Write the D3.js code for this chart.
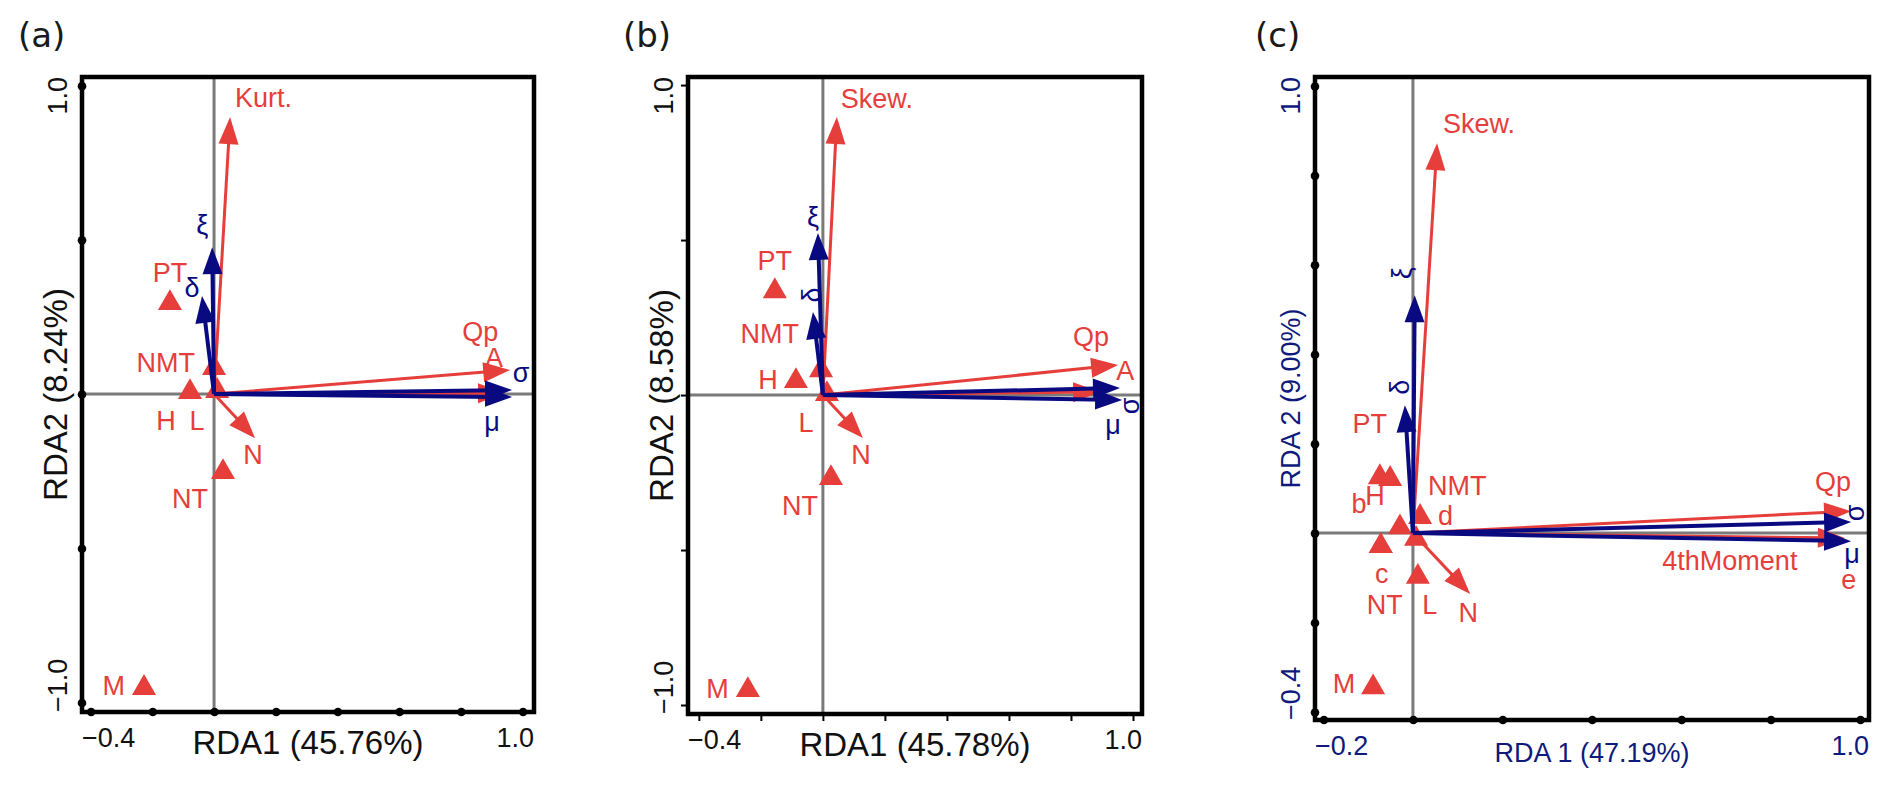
<!DOCTYPE html>
<html>
<head>
<meta charset="utf-8">
<script src="https://cdn.jsdelivr.net/npm/d3@7"></script>
<style>
  body { margin: 0; background: #fff; }
  text { font-family: "Liberation Sans", Arial, sans-serif; }
</style>
</head>
<body>
<svg id="fig" width="1892" height="787"></svg>
<script>
// ---- data (RDA scores) ----
// panel (a)
const aXLim = [-0.428, 1.037]
const aYLim = [-1.031, 1.028]
const aXTicks = [-0.4, -0.2, 0, 0.2, 0.4, 0.6, 0.8, 1.0]
const aYTicks = [-1.0, -0.5, 0, 0.5, 1.0]
const aEnv = [['Kurt.', 0.052, 0.898], ['Qp', 0.96, 0.078], ['A', 0.943, 0.003], ['N', 0.133, -0.143]]
const aResp = [['ξ', -0.006, 0.476], ['δ', -0.039, 0.318], ['σ', 0.966, 0.013], ['μ', 0.966, -0.01]]
const aSites = [['PT', -0.143, 0.295], ['NMT', 0.0, 0.084], ['H', -0.078, 0.006], ['L', 0.01, 0.01], ['NT', 0.029, -0.253], ['M', -0.227, -0.953]]

// panel (b)
const bXLim = [-0.435, 1.029]
const bYLim = [-1.029, 1.026]
const bXTicks = [-0.4, -0.2, 0, 0.2, 0.4, 0.6, 0.8, 1.0]
const bYTicks = [-1.0, -0.5, 0, 0.5, 1.0]
const bEnv = [['Skew.', 0.045, 0.897], ['Qp', 0.952, 0.097], ['A', 0.894, 0.01], ['N', 0.129, -0.139]]
const bResp = [['ξ', -0.016, 0.523], ['δ', -0.032, 0.268], ['σ', 0.958, 0.023], ['μ', 0.965, -0.016]]
const bSites = [['PT', -0.155, 0.335], ['NMT', -0.006, 0.08], ['H', -0.087, 0.045], ['L', 0.013, 0.003], ['NT', 0.026, -0.268], ['M', -0.242, -0.952]]

// panel (c)
const cXLim = [-0.219, 1.02]
const cYLim = [-0.418, 1.02]
const cXTicks = [-0.2, 0, 0.2, 0.4, 0.6, 0.8, 1.0]
const cYTicks = [-0.4, -0.2, 0, 0.2, 0.4, 0.6, 0.8, 1.0]
const cEnv = [['Skew.', 0.054, 0.872], ['Qp', 0.98, 0.049], ['4thMoment', 0.966, -0.011], ['N', 0.128, -0.136]]
const cResp = [['ξ', 0.004, 0.532], ['δ', -0.018, 0.286], ['σ', 0.98, 0.025], ['μ', 0.98, -0.018]]
const cSites = [['PT', -0.074, 0.125], ['H', -0.051, 0.121], ['b', -0.029, 0.013], ['NMT', 0.016, 0.036],
  ['d', 0.007, -0.013], ['c', -0.072, -0.029], ['NT', -0.072, -0.029], ['L', 0.011, -0.098], ['M', -0.089, -0.345]]

// ---- label placement (pixel offsets from the arrow tip / site) ----
const aLabels = {
  'Kurt.': [5, -10, 'start'], 'Qp': [-30, -29], 'A': [-11, -26], 'N': [-2, 26],
  'ξ': [-10, -13], 'δ': [-10, 1], 'σ': [9, -8], 'μ': [-20, 34],
  'PT': [0, -21], 'NMT': [-19, 4, 'end'], 'H': [-24, 38], 'L': [-20, 39], 'NT': [-33, 36], 'M': [-19, 7, 'end']
}
const bLabels = {
  'Skew.': [4, -9, 'start'], 'Qp': [-27, -19], 'A': [25, -12], 'N': [-2, 26],
  'ξ': [-5, -7], 'δ': [-1, -17, 'middle', true], 'σ': [10, 18, 'middle', true], 'μ': [-9, 34],
  'PT': [0, -21], 'NMT': [-22, -27, 'end'], 'H': [-28, 8], 'L': [-21, 38], 'NT': [-31, 37], 'M': [-19, 8, 'end']
}
const cLabels = {
  'Skew.': [6, -10, 'start'], 'Qp': [-18, -20], '4thMoment': [-115, 32], 'N': [-2, 28],
  'ξ': [-13, -22, 'middle', true], 'δ': [-5, -18, 'middle', true], 'σ': [4, -9, 'middle', true], 'μ': [1, 22],
  'PT': [-10, -44], 'H': [-15, 26], 'b': [-41, -14], 'NMT': [8, -22, 'start'], 'd': [22, -14, 'start'],
  'c': [1, 37], 'NT': [4, 68], 'L': [12, 37], 'M': [-18, 6, 'end']
}

const RED = '#e63e3b'
const NAVY = '#0a0a80'
const GREY = '#7a7a7a'

const panels = [
  { tag: '(a)', tagX: 18, left: 82, right: 534, top: 77, bottom: 712,
    xLim: aXLim, yLim: aYLim, xTicks: aXTicks, yTicks: aYTicks, xShown: [-0.4, 1.0], yShown: [-1.0, 1.0],
    env: aEnv, resp: aResp, sites: aSites, labels: aLabels, extra: [],
    xTitle: 'RDA1 (45.76%)', yTitle: 'RDA2 (8.24%)', dots: true, axisInk: '#111', titleSize: 33, tickSize: 27 },
  { tag: '(b)', tagX: 623, left: 688, right: 1142, top: 77, bottom: 714,
    xLim: bXLim, yLim: bYLim, xTicks: bXTicks, yTicks: bYTicks, xShown: [-0.4, 1.0], yShown: [-1.0, 1.0],
    env: bEnv, resp: bResp, sites: bSites, labels: bLabels, extra: [],
    xTitle: 'RDA1 (45.78%)', yTitle: 'RDA2 (8.58%)', dots: false, axisInk: '#111', titleSize: 33, tickSize: 27 },
  { tag: '(c)', tagX: 1255, left: 1315, right: 1869, top: 77, bottom: 720,
    xLim: cXLim, yLim: cYLim, xTicks: cXTicks, yTicks: cYTicks, xShown: [-0.2, 1.0], yShown: [-0.4, 1.0],
    env: cEnv, resp: cResp, sites: cSites, labels: cLabels, extra: [['e', '4thMoment', 4, 51]],
    xTitle: 'RDA 1 (47.19%)', yTitle: 'RDA 2 (9.00%)', dots: true, axisInk: '#0e1a7c', titleSize: 27, tickSize: 27 }
]

const svg = d3.select('#fig')
const fmt = d3.format('.1f')

function drawArrow(g, x0, y0, x1, y1, color, width) {
  const len = Math.hypot(x1 - x0, y1 - y0)
  const ux = (x1 - x0) / len, uy = (y1 - y0) / len
  const hl = 27, hw = 10
  const bx = x1 - ux * hl, by = y1 - uy * hl
  g.append('line')
    .attr('x1', x0).attr('y1', y0)
    .attr('x2', x1 - ux * hl * 0.6).attr('y2', y1 - uy * hl * 0.6)
    .attr('stroke', color).attr('stroke-width', width)
  g.append('path')
    .attr('d', `M${x1},${y1}L${bx - uy * hw},${by + ux * hw}L${bx + uy * hw},${by - ux * hw}Z`)
    .attr('fill', color)
}

panels.forEach(p => {
  const x = d3.scaleLinear().domain(p.xLim).range([p.left, p.right])
  const y = d3.scaleLinear().domain(p.yLim).range([p.bottom, p.top])
  const g = svg.append('g')

  // panel tag
  svg.append('text')
    .attr('x', p.tagX).attr('y', 47)
    .style('font-family', '"DejaVu Sans", Verdana, sans-serif')
    .style('font-size', '34px').attr('fill', '#1a1a1a')
    .text(p.tag)

  // zero lines
  g.append('line')
    .attr('x1', p.left).attr('x2', p.right).attr('y1', y(0)).attr('y2', y(0))
    .attr('stroke', GREY).attr('stroke-width', 3)
  g.append('line')
    .attr('x1', x(0)).attr('x2', x(0)).attr('y1', p.top).attr('y2', p.bottom)
    .attr('stroke', GREY).attr('stroke-width', 3)

  // sites
  g.selectAll('path.site').data(p.sites)
    .enter().append('path')
      .classed('site', true)
      .attr('d', d3.symbol(d3.symbolTriangle, 250))
      .attr('transform', d => `translate(${x(d[1])},${y(d[2])})`)
      .attr('fill', RED)

  // biplot arrows: explanatory (red) under response (navy)
  p.env.forEach(d => drawArrow(g, x(0), y(0), x(d[1]), y(d[2]), RED, 3))
  p.resp.forEach(d => drawArrow(g, x(0), y(0), x(d[1]), y(d[2]), NAVY, 4))

  // frame
  g.append('rect')
    .attr('x', p.left).attr('y', p.top)
    .attr('width', p.right - p.left).attr('height', p.bottom - p.top)
    .attr('fill', 'none').attr('stroke', '#000').attr('stroke-width', 4.5)

  // ticks
  const xAxis = g.append('g')
    .attr('transform', `translate(0,${p.bottom})`)
    .call(d3.axisBottom(x).tickValues(p.xTicks).tickSize(p.dots ? 0 : 7).tickFormat(''))
  const yAxis = g.append('g')
    .attr('transform', `translate(${p.left},0)`)
    .call(d3.axisLeft(y).tickValues(p.yTicks).tickSize(p.dots ? 0 : 7).tickFormat(''))
  ;[xAxis, yAxis].forEach(a => {
    a.select('.domain').remove()
    a.selectAll('.tick line').attr('stroke', '#000').attr('stroke-width', 2)
    if (p.dots) a.selectAll('.tick').append('circle').attr('r', 4.3).attr('fill', '#000')
  })

  // tick labels, kept inside the frame extent
  p.xShown.forEach(v => {
    const t = g.append('text')
      .attr('y', p.bottom + 35).attr('text-anchor', 'middle')
      .style('font-size', p.tickSize + 'px').attr('fill', p.axisInk)
      .text(fmt(v))
    const half = t.node().getComputedTextLength() / 2
    t.attr('x', Math.max(p.left + half, Math.min(p.right - half, x(v))))
  })
  p.yShown.forEach(v => {
    const t = g.append('text')
      .attr('text-anchor', 'middle')
      .style('font-size', p.tickSize + 'px').attr('fill', p.axisInk)
      .text(fmt(v))
    const half = t.node().getComputedTextLength() / 2
    const cy = Math.max(p.top + half, Math.min(p.bottom - half, y(v)))
    t.attr('transform', `translate(${p.left - 15},${cy}) rotate(-90)`)
  })

  // axis titles
  g.append('text')
    .attr('x', (p.left + p.right) / 2).attr('y', p.bottom + 42)
    .attr('text-anchor', 'middle')
    .style('font-size', p.titleSize + 'px').attr('fill', p.axisInk)
    .text(p.xTitle)
  g.append('text')
    .attr('transform', `translate(${p.left - 15},${(p.top + p.bottom) / 2}) rotate(-90)`)
    .attr('text-anchor', 'middle')
    .style('font-size', p.titleSize + 'px').attr('fill', p.axisInk)
    .text(p.yTitle)

  // point and arrow labels
  const items = [
    ...p.env.map(d => [d, RED]),
    ...p.resp.map(d => [d, NAVY]),
    ...p.sites.map(d => [d, RED])
  ]
  items.forEach(([d, color]) => {
    const [dx, dy, anchor = 'middle', rot = false] = p.labels[d[0]]
    const t = g.append('text')
      .attr('text-anchor', anchor)
      .style('font-size', '27px').attr('fill', color)
      .text(d[0])
    if (rot) {
      t.attr('dominant-baseline', 'central')
        .attr('transform', `translate(${x(d[1]) + dx},${y(d[2]) + dy}) rotate(-90)`)
    } else {
      t.attr('x', x(d[1]) + dx).attr('y', y(d[2]) + dy)
    }
  })
  p.extra.forEach(([text, of, dx, dy]) => {
    const d = p.env.find(e => e[0] === of)
    g.append('text')
      .attr('x', x(d[1]) + dx).attr('y', y(d[2]) + dy)
      .attr('text-anchor', 'middle')
      .style('font-size', '27px').attr('fill', RED)
      .text(text)
  })
})
</script>
</body>
</html>
